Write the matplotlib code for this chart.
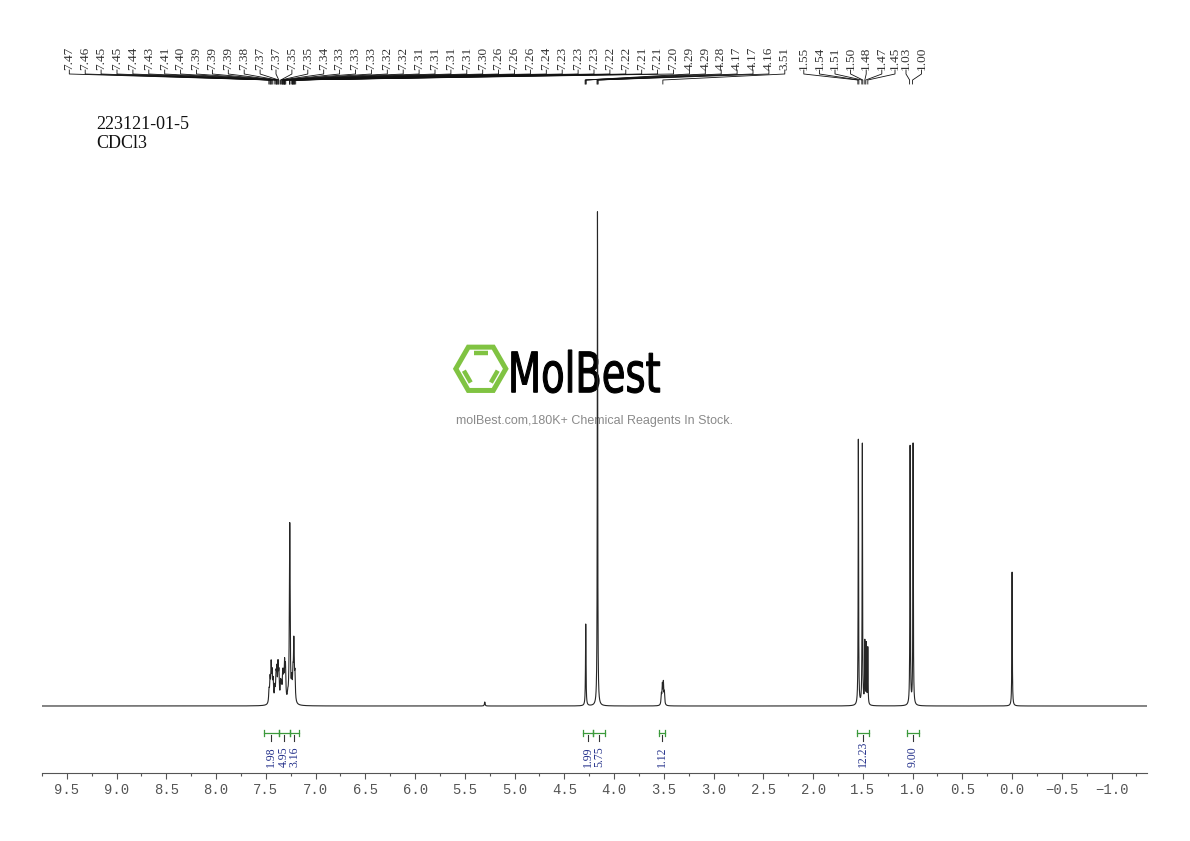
import numpy as np
import matplotlib.pyplot as plt
from matplotlib.patches import RegularPolygon, PathPatch
from matplotlib.textpath import TextPath
from matplotlib.font_manager import FontProperties
from matplotlib.transforms import Affine2D
from matplotlib.ticker import FixedLocator, MultipleLocator

# --- data -------------------------------------------------------------
sample_id = "223121-01-5"
solvent = "CDCl3"

# resolved lines: shift (ppm), height (baseline = 0), half width (ppm)
peak_ppm = [7.468, 7.458, 7.447, 7.437, 7.427, 7.410, 7.398, 7.390, 7.378, 7.369,
            7.352, 7.343, 7.331, 7.322, 7.312, 7.303, 7.280, 7.260, 7.240, 7.228,
            7.219, 7.208,
            5.300, 4.285, 4.167,
            3.525, 3.515, 3.505, 3.495,
            1.545, 1.505, 1.480, 1.465, 1.450,
            1.025, 0.995, 0.000]
peak_height = [12, 22, 36, 26, 20, 14, 24, 28, 34, 26,
               18, 15, 26, 22, 34, 32, 6, 180, 18, 24,
               58, 26,
               4, 82, 496,
               10, 19, 21, 12,
               266, 262, 62, 60, 57,
               259, 262, 134]
peak_width = [0.0045] * 22 + [0.004, 0.003, 0.0025] + [0.004] * 4 + \
             [0.0025] * 5 + [0.0025, 0.0025, 0.0025]

# peak-pick labels printed above the spectrum
pick_group1 = ["7.47", "7.46", "7.45", "7.45", "7.44", "7.43", "7.41", "7.40", "7.39", "7.39",
               "7.39", "7.38", "7.37", "7.37", "7.35", "7.35", "7.34", "7.33", "7.33", "7.33",
               "7.32", "7.32", "7.31", "7.31", "7.31", "7.31", "7.30", "7.26", "7.26", "7.26",
               "7.24", "7.23", "7.23", "7.23", "7.22", "7.22", "7.21", "7.21", "7.20", "4.29",
               "4.29", "4.28", "4.17", "4.17", "4.16", "3.51"]
pick_group2 = ["1.55", "1.54", "1.51", "1.50", "1.48", "1.47", "1.45", "1.03", "1.00"]

# integrals: (from ppm, to ppm), value
integral_ranges = [(7.52, 7.37), (7.37, 7.26), (7.26, 7.17), (4.31, 4.21), (4.21, 4.09),
                   (3.545, 3.49), (1.56, 1.44), (1.06, 0.94)]
integral_values = ["1.98", "4.95", "3.16", "1.99", "5.75", "1.12", "12.23", "9.00"]

tick_values = [9.5, 9.0, 8.5, 8.0, 7.5, 7.0, 6.5, 6.0, 5.5, 5.0, 4.5, 4.0,
               3.5, 3.0, 2.5, 2.0, 1.5, 1.0, 0.5, 0.0, -0.5, -1.0]

# --- layout (pixels of the 1190x841 picture) --------------------------
W, H = 1190, 841
X_LEFT, X_RIGHT = 42, 1147
PPM_LEFT, PPM_RIGHT = 9.75, -1.356
BASE_PX, AXIS_PX, TOP_PX = 706, 773, 200
PX_PER_PPM = (X_RIGHT - X_LEFT) / (PPM_LEFT - PPM_RIGHT)


def px2ppm(px):
    return PPM_LEFT - (px - X_LEFT) / PX_PER_PPM


def py(px):  # picture row -> data y of main axes
    return BASE_PX - px


fig = plt.figure(figsize=(W / 100, H / 100), dpi=100)

# overlay in picture pixels for header and watermark
wm = fig.add_axes([0, 0, 1, 1])
wm.set_xlim(0, W)
wm.set_ylim(H, 0)
wm.axis('off')
wm.set_zorder(0)

ax = fig.add_axes([X_LEFT / W, (H - AXIS_PX) / H, (X_RIGHT - X_LEFT) / W, (AXIS_PX - TOP_PX) / H])
ax.set_zorder(1)
ax.patch.set_alpha(0)

# spectrum
x = np.linspace(PPM_LEFT, PPM_RIGHT, 24000)
y = np.zeros_like(x)
for p, h, g in zip(peak_ppm, peak_height, peak_width):
    y += h * g ** 2 / (g ** 2 + (x - p) ** 2)
ax.plot(x, y, color='#262626', lw=0.8)

ax.set_xlim(PPM_LEFT, PPM_RIGHT)
ax.set_ylim(py(AXIS_PX), py(TOP_PX))

for s in ['left', 'right', 'top']:
    ax.spines[s].set_visible(False)
ax.spines['bottom'].set_color('#555555')
ax.spines['bottom'].set_linewidth(0.8)
ax.set_yticks([])
ax.xaxis.set_major_locator(FixedLocator(tick_values))
ax.xaxis.set_minor_locator(MultipleLocator(0.25))
ax.set_xticklabels([f"{t:.1f}".replace('-', '\u2212') for t in tick_values],
                   family='Liberation Mono', fontsize=10, color='#555555')
ax.tick_params(axis='x', which='major', length=4, width=0.8, color='#555555', pad=3.5)
ax.tick_params(axis='x', which='minor', length=2.5, width=0.8, color='#555555')

# peak pick labels and connectors
group1_px = [69.3 + 15.9 * i for i in range(len(pick_group1))]
group2_px = [803.8, 819.4, 835.0, 850.6, 866.2, 881.8, 895.0, 906.0, 921.5]
for labels, lpx in [(pick_group1, group1_px), (pick_group2, group2_px)]:
    for lab, px in zip(labels, lpx):
        lx = px2ppm(px)
        pk = float(lab)
        ax.text(lx, py(69.5), lab, rotation=90, ha='center', va='bottom',
                family='Liberation Serif', fontsize=9.5, color='#333333', clip_on=False)
        ax.plot([lx, lx, pk, pk], [py(70), py(74), py(80), py(84)],
                color='#111111', lw=0.6, clip_on=False)

# integrals
for (a, b), val in zip(integral_ranges, integral_values):
    yb = py(733)
    ax.plot([a, b], [yb, yb], color='#3c9a3c', lw=0.9, clip_on=False)
    for e in (a, b):
        ax.plot([e, e], [yb - 3, yb + 3], color='#3c9a3c', lw=0.9, clip_on=False)
    c = (a + b) / 2
    ax.plot([c, c], [yb - 2, py(741)], color='#333333', lw=0.8, clip_on=False)
    ax.text(c, py(767), val, rotation=90, ha='center', va='bottom',
            family='Liberation Serif', fontsize=8.5, color='#23308a', clip_on=False)

# header
wm.text(96, 129, sample_id, family='Liberation Serif', fontsize=13, va='baseline', color='#111111')
wm.text(96, 148, solvent, family='Liberation Serif', fontsize=13, va='baseline', color='#111111')

# watermark logo
green = '#80c342'
cx, cy, R = 480.8, 368.8, 25.0
wm.add_patch(RegularPolygon((cx, cy), 6, radius=R, orientation=np.pi / 6,
                            facecolor='none', edgecolor=green, lw=3.6))
verts = [(cx + R * np.cos(np.radians(k * 60)), cy - R * np.sin(np.radians(k * 60))) for k in range(7)]
for k in (1, 3, 5):
    (x0, y0), (x1, y1) = verts[k], verts[k + 1]
    x0, y0 = cx + 0.72 * (x0 - cx), cy + 0.72 * (y0 - cy)
    x1, y1 = cx + 0.72 * (x1 - cx), cy + 0.72 * (y1 - cy)
    wm.plot([x0 + 0.12 * (x1 - x0), x0 + 0.88 * (x1 - x0)],
            [y0 + 0.12 * (y1 - y0), y0 + 0.88 * (y1 - y0)],
            color=green, lw=3.2, solid_capstyle='butt')

tp = TextPath((0, 0), "MolBest", size=50, prop=FontProperties(family='DejaVu Sans'))
ext = tp.get_extents()
tr = Affine2D().translate(-ext.x0, -ext.y1).scale(148 / ext.width, -43 / ext.height).translate(511.7, 350)
wm.add_patch(PathPatch(tr.transform_path(tp), facecolor='black', edgecolor='black', lw=0.8))
wm.text(594, 421, "molBest.com,180K+ Chemical Reagents In Stock.", ha='center', va='center',
        family='Liberation Sans', fontsize=9, color='#8a8a8a')

fig.savefig('out.png', dpi=100)
